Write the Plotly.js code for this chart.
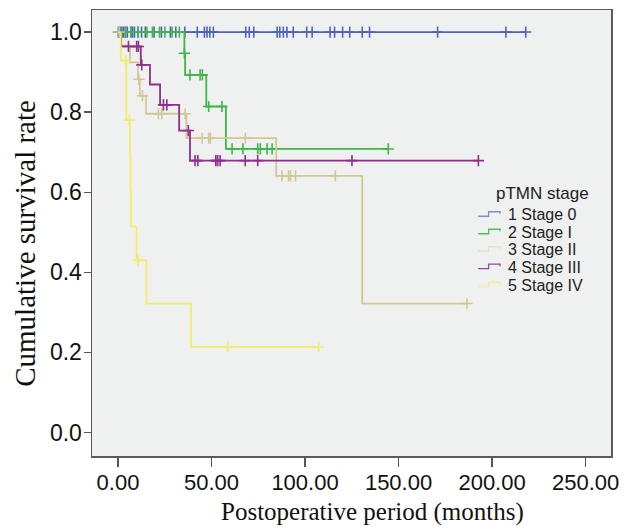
<!DOCTYPE html>
<html>
<head>
<meta charset="utf-8">
<script src="https://cdn.plot.ly/plotly-3.0.1.min.js"></script>
<style>html,body{margin:0;padding:0;background:#fff;}#chart{width:625px;height:530px;}</style>
</head>
<body>
<div id="chart"></div>
<script>
// ---- Data ----
var stageNames = ["1 Stage 0", "2 Stage I", "3 Stage II", "4 Stage III", "5 Stage IV"];
var stageColors = ["#4f63bf", "#3fb54a", "#d3c894", "#8e2f8e", "#f2ec6a"];
var legendColors = ["#7f8fd6", "#4cbd55", "#e4dfc6", "#9a4a9a", "#f4ef86"];

// Step curves: event times (months) and survival after each step
var s0Times = [0, 218];
var s0Surv  = [1, 1];
var s1Times = [0, 35.5, 35.9, 47.2, 57.7, 144.5];
var s1Surv  = [1, 0.947, 0.893, 0.814, 0.708, 0.708];
var s2Times = [0, 1.6, 6.4, 10.7, 11.7, 15.0, 36.6, 84.6, 130.6, 186.6];
var s2Surv  = [1, 0.966, 0.924, 0.882, 0.841, 0.796, 0.735, 0.641, 0.322, 0.322];
var s3Times = [0, 1.7, 12.2, 17.1, 22.5, 32.7, 38.5, 192.7];
var s3Surv  = [1, 0.964, 0.918, 0.869, 0.818, 0.754, 0.679, 0.679];
var s4Times = [0, 1.5, 4.4, 6.4, 6.7, 7.0, 9.9, 15.2, 39.1, 107.3];
var s4Surv  = [1, 0.929, 0.78, 0.689, 0.602, 0.514, 0.43, 0.322, 0.214, 0.214];

// Censored observations (time, survival level)
var c0Times = [0.2, 1.1, 2.1, 3.0, 4.0, 5.0, 6.9, 7.8, 8.8, 10.7, 12.6, 14.6, 19.3, 23.2, 28.0, 30.9, 35.7, 42.4, 46.2, 47.6, 49.1, 51.0, 68.3, 70.2, 72.6, 85.1, 86.5, 88.4, 90.3, 93.7, 100.9, 103.8, 113.4, 115.8, 120.1, 123.9, 130.6, 134.5, 170.9, 207.4, 218.0];
var c0Surv  = [1, 1, 1, 1, 1, 1, 1, 1, 1, 1, 1, 1, 1, 1, 1, 1, 1, 1, 1, 1, 1, 1, 1, 1, 1, 1, 1, 1, 1, 1, 1, 1, 1, 1, 1, 1, 1, 1, 1, 1, 1];
var c1Times = [1.1, 4.0, 6.9, 10.7, 15.5, 18.4, 22.2, 25.1, 28.9, 32.8, 35.5, 38.5, 43.9, 45.1, 48.5, 55.6, 61.0, 66.8, 74.7, 76.1, 79.7, 82.4, 144.5];
var c1Surv  = [1, 1, 1, 1, 1, 1, 1, 1, 1, 1, 0.947, 0.893, 0.893, 0.893, 0.814, 0.814, 0.708, 0.708, 0.708, 0.708, 0.708, 0.708, 0.708];
var c2Times = [0.6, 11.2, 13.1, 21.6, 23.4, 35.9, 45.0, 48.5, 49.4, 68.1, 87.7, 91.2, 92.2, 94.9, 116.2, 186.6];
var c2Surv  = [1, 0.882, 0.841, 0.796, 0.796, 0.796, 0.735, 0.735, 0.735, 0.735, 0.641, 0.641, 0.641, 0.641, 0.641, 0.322];
var c3Times = [5.6, 10.0, 10.9, 12.7, 24.3, 26.1, 37.6, 41.2, 42.7, 52.3, 53.3, 54.6, 68.0, 74.7, 125.1, 192.7];
var c3Surv  = [0.964, 0.964, 0.964, 0.918, 0.818, 0.818, 0.754, 0.679, 0.679, 0.679, 0.679, 0.679, 0.679, 0.679, 0.679, 0.679];
var c4Times = [4.0, 6.1, 10.6, 58.7, 107.3];
var c4Surv  = [0.929, 0.78, 0.43, 0.214, 0.214];

var xTickVals = [0, 50, 100, 150, 200, 250];
var yTickVals = [0, 0.2, 0.4, 0.6, 0.8, 1.0];
var xTitle = "Postoperative period (months)";
var yTitle = "Cumulative survival rate";
var legendTitle = "pTMN stage";

var curveT = [s0Times, s1Times, s2Times, s3Times, s4Times];
var curveS = [s0Surv, s1Surv, s2Surv, s3Surv, s4Surv];
var censT = [c0Times, c1Times, c2Times, c3Times, c4Times];
var censS = [c0Surv, c1Surv, c2Surv, c3Surv, c4Surv];

var traces = [];
for (var i = 0; i < 5; i++) {
  traces.push({
    x: curveT[i], y: curveS[i], type: "scatter", mode: "lines",
    line: {shape: "hv", color: stageColors[i], width: 1.8},
    name: stageNames[i], showlegend: false, hoverinfo: "skip"
  });
  traces.push({
    x: censT[i], y: censS[i], type: "scatter", mode: "markers",
    marker: {symbol: "cross-thin-open", size: 8, color: stageColors[i], line: {color: stageColors[i], width: 1.6}},
    name: stageNames[i] + " censored", showlegend: false, hoverinfo: "skip"
  });
}

// Plot area in pixels: x 91.5..611, y 10..456.5
var L = 91.5, R = 611, T = 10, B = 456.5;
function px(x) { return (x - L) / (R - L); }
function py(y) { return (B - y) / (B - T); }

var sansFont = "Liberation Sans, Arial, sans-serif";
var serifFont = "Liberation Serif, Times New Roman, serif";

var annotations = [
  {text: legendTitle, xref: "paper", yref: "paper", x: px(494), y: py(194),
   xanchor: "left", yanchor: "middle", showarrow: false,
   font: {family: sansFont, size: 17, color: "#222"}},
  {text: xTitle, xref: "paper", yref: "paper", x: px(372), y: py(513),
   xanchor: "center", yanchor: "middle", showarrow: false,
   font: {family: serifFont, size: 25, color: "#111"}},
  {text: yTitle, xref: "paper", yref: "paper", x: px(25), y: py(243.5), textangle: -90,
   xanchor: "center", yanchor: "middle", showarrow: false,
   font: {family: serifFont, size: 29, color: "#111"}}
];
var shapes = [];
var legendY = [215, 232.5, 250, 267.5, 285.5];
for (var k = 0; k < 5; k++) {
  annotations.push({
    text: stageNames[k], xref: "paper", yref: "paper", x: px(506), y: py(legendY[k]),
    xanchor: "left", yanchor: "middle", showarrow: false,
    font: {family: sansFont, size: 16, color: "#222"}
  });
  var yc = legendY[k];
  var path = "M " + px(478) + "," + py(yc + 1.5) + " L " + px(488.5) + "," + py(yc + 1.5) +
             " L " + px(488.5) + "," + py(yc - 3) + " L " + px(500) + "," + py(yc - 3) +
             " L " + px(500) + "," + py(yc - 1);
  shapes.push({type: "path", xref: "paper", yref: "paper", path: path,
    line: {color: legendColors[k], width: 1.3}});
}

var layout = {
  width: 625, height: 530,
  margin: {l: L, r: 625 - R, t: T, b: 530 - B, pad: 0},
  paper_bgcolor: "#ffffff",
  plot_bgcolor: "#eff0f0",
  showlegend: false,
  xaxis: {
    range: [-13.9, 263.6], tickvals: xTickVals, tickformat: ".2f",
    ticks: "outside", ticklen: 9, tickwidth: 1.3, tickcolor: "#555",
    showline: true, mirror: true, linecolor: "#5a5a5a", linewidth: 1.5,
    showgrid: false, zeroline: false, ticklabelstandoff: -3,
    tickfont: {family: sansFont, size: 22, color: "#111"}
  },
  yaxis: {
    range: [-0.0586, 1.055], tickvals: yTickVals, tickformat: ".1f",
    ticks: "outside", ticklen: 7, tickwidth: 1.3, tickcolor: "#555",
    showline: true, mirror: true, linecolor: "#5a5a5a", linewidth: 1.5,
    showgrid: false, zeroline: false, ticklabelstandoff: -3,
    tickfont: {family: sansFont, size: 23, color: "#111"}
  },
  annotations: annotations,
  shapes: shapes
};

Plotly.newPlot("chart", traces, layout, {staticPlot: true, displayModeBar: false});
</script>
</body>
</html>
